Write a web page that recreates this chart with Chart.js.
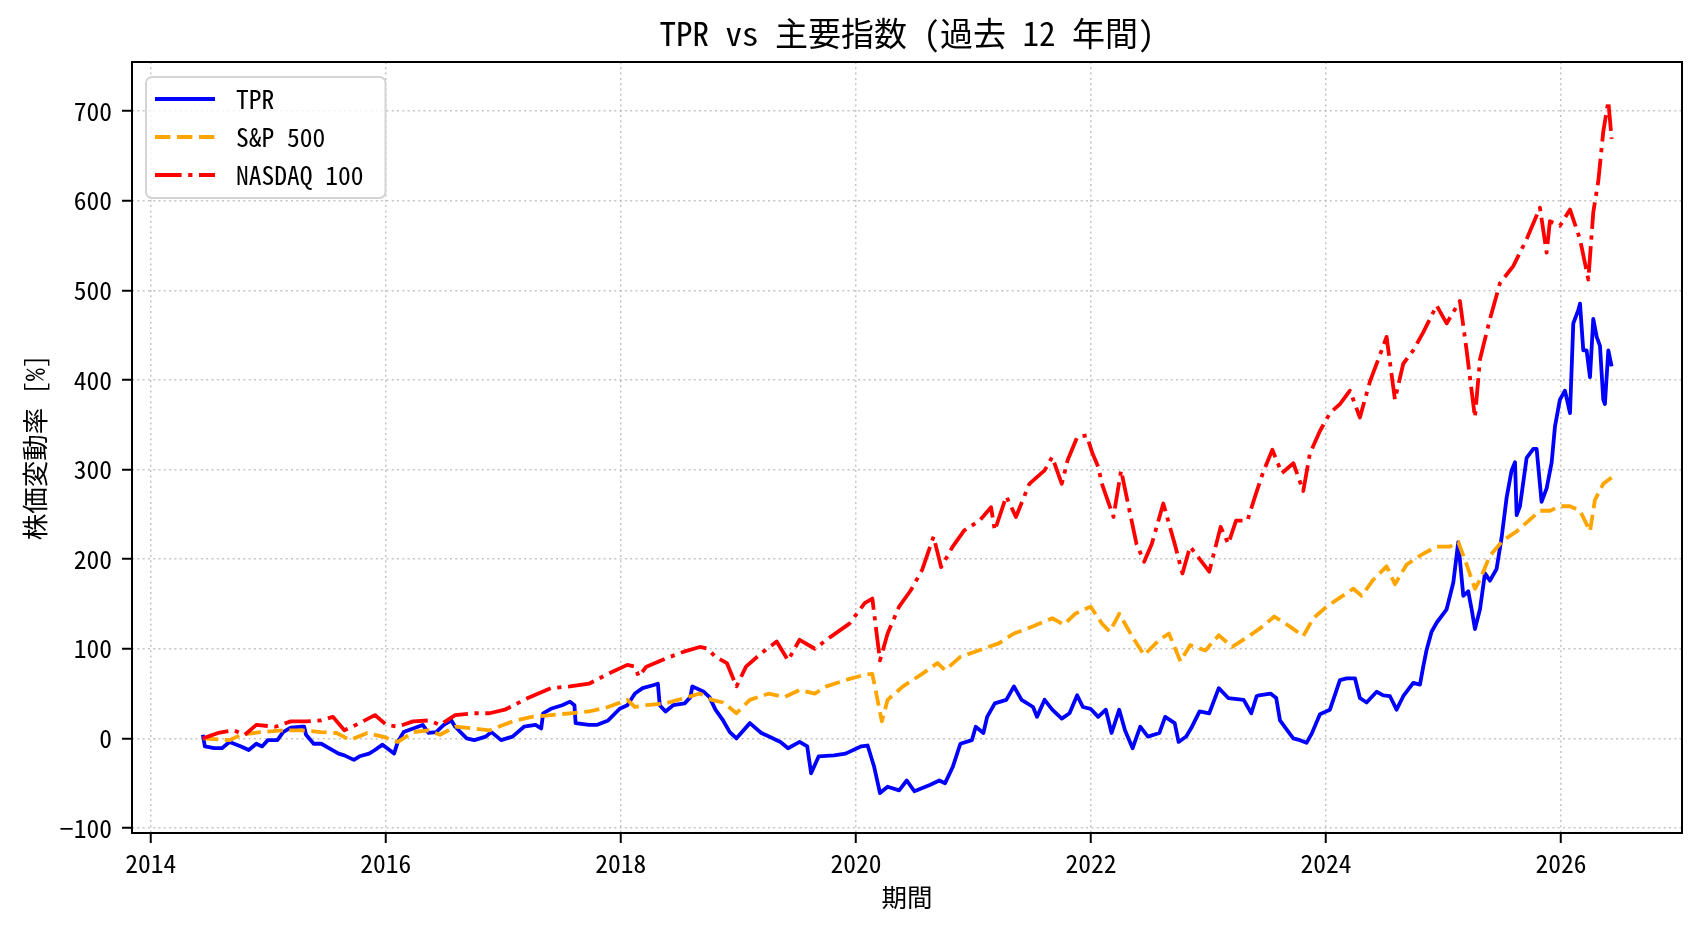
<!DOCTYPE html>
<html>
<head>
<meta charset="utf-8">
<script src="https://cdn.jsdelivr.net/npm/chart.js@4.4.1/dist/chart.umd.min.js"></script>
<style>
html,body{margin:0;padding:0;background:#ffffff;}
canvas{display:block;}
</style>
</head>
<body>
<canvas id="c" width="1702" height="932"></canvas>
<script>
// ---- text ----
const chartTitle = 'TPR vs 主要指数 (過去 12 年間)';
const xAxisLabel = '期間';
const yAxisLabel = '株価変動率 [%]';
const seriesNames = ['TPR', 'S&P 500', 'NASDAQ 100'];

// ---- ticks ----
const xTicks = [2014, 2016, 2018, 2020, 2022, 2024, 2026];
const yTicks = [-100, 0, 100, 200, 300, 400, 500, 600, 700];

// ---- TPR (decimal year, % change) ----
const tprYears = [2014.443,2014.46,2014.54,2014.605,2014.67,2014.768,2014.833,2014.898,2014.947,2014.996,
2015.077,2015.126,2015.191,2015.289,2015.305,2015.321,2015.386,2015.451,2015.516,2015.598,2015.647,2015.728,2015.777,2015.858,2015.907,2015.972,
2016.07,2016.102,2016.151,2016.232,2016.314,2016.363,2016.428,2016.493,2016.558,2016.59,2016.688,2016.753,2016.851,2016.899,2016.981,
2017.078,2017.176,2017.274,2017.322,2017.339,2017.404,2017.501,2017.567,2017.605,2017.615,2017.729,2017.794,2017.892,2017.99,
2018.055,2018.12,2018.185,2018.266,2018.315,2018.331,2018.38,2018.445,2018.543,2018.592,2018.608,2018.706,2018.754,2018.805,2018.87,2018.927,2018.984,
2019.098,2019.195,2019.261,2019.358,2019.423,2019.521,2019.586,2019.619,2019.684,2019.814,2019.912,
2020.042,2020.1,2020.156,2020.205,2020.27,2020.368,2020.433,2020.498,2020.629,2020.71,2020.759,2020.824,2020.889,2020.987,
2021.02,2021.085,2021.117,2021.182,2021.28,2021.345,2021.41,2021.508,2021.541,2021.606,2021.671,2021.752,2021.818,2021.883,2021.932,2021.997,
2022.062,2022.127,2022.176,2022.241,2022.29,2022.355,2022.42,2022.485,2022.583,2022.632,2022.713,2022.746,2022.811,2022.86,2022.925,
2023.007,2023.088,2023.169,2023.3,2023.365,2023.41,2023.43,2023.528,2023.577,2023.609,2023.665,2023.722,2023.779,2023.835,2023.878,2023.949,
2024.034,2024.119,2024.176,2024.247,2024.289,2024.346,2024.431,2024.488,2024.545,2024.601,2024.658,2024.743,2024.8,2024.828,2024.857,2024.899,2024.942,
2025.027,2025.084,2025.126,2025.169,2025.211,2025.24,2025.268,2025.311,2025.353,2025.396,2025.452,2025.495,2025.538,2025.58,2025.609,2025.623,2025.651,2025.708,2025.765,2025.793,2025.835,2025.878,2025.921,2025.949,2025.991,
2026.034,2026.077,2026.105,2026.148,2026.162,2026.19,2026.218,2026.247,2026.275,2026.304,2026.332,2026.36,2026.374,2026.403,2026.431];
const tprValues = [4,-9,-11,-11,-4,-9,-13,-6,-9,-2,
-2,7,12,13,13,4,-6,-6,-11,-17,-19,-24,-20,-17,-13,-7,
-17,-4,7,11,15,6,7,15,20,13,0,-2,2,7,-2,
2,13,15,11,28,33,37,41,37,17,15,15,20,33,
37,50,56,59,61,37,30,37,39,46,58,52,46,32,20,7,0,
17,6,2,-4,-11,-4,-9,-39,-20,-19,-17,
-9,-8,-32,-61,-54,-58,-47,-59,-52,-47,-50,-32,-6,-2,
13,6,24,39,43,58,43,35,24,43,32,22,28,48,35,33,
24,32,6,32,9,-11,13,2,6,24,17,-4,2,13,30,
28,56,45,43,28,47,48,50,45,20,10,0,-2,-5,5,27,
32,65,67,67,45,40,52,48,47,32,47,62,60,80,99,119,129,
144,174,219,159,164,144,122,144,184,176,189,224,269,299,308,249,259,313,323,323,264,279,308,348,378,
388,363,463,478,485,433,433,403,468,448,438,378,373,433,415];

// ---- S&P 500 ----
const spYears = [2014.443,2014.67,2014.768,2014.933,2015.126,2015.289,2015.451,2015.581,2015.695,2015.842,2015.972,
2016.102,2016.232,2016.363,2016.461,2016.59,2016.753,2016.883,2017.078,2017.241,2017.404,2017.567,2017.729,2017.892,
2018.055,2018.12,2018.217,2018.38,2018.543,2018.673,2018.772,2018.87,2018.984,
2019.098,2019.261,2019.391,2019.521,2019.651,2019.749,2019.912,2020.075,2020.14,2020.221,2020.27,2020.401,2020.564,2020.694,2020.759,2020.889,
2021.02,2021.215,2021.345,2021.508,2021.671,2021.769,2021.866,2021.997,2022.094,2022.16,2022.241,2022.355,2022.453,2022.583,2022.664,2022.762,2022.844,2022.974,
2023.088,2023.202,2023.332,2023.463,2023.56,2023.691,2023.807,2023.892,2024.006,2024.119,2024.233,2024.304,2024.403,2024.516,2024.587,2024.687,2024.828,2024.942,
2025.055,2025.126,2025.197,2025.268,2025.311,2025.396,2025.509,2025.623,2025.736,2025.821,2025.906,2025.991,2026.077,2026.162,2026.218,2026.247,2026.289,2026.36,2026.431];
const spValues = [0,-2,4,7,9,9,7,6,-2,6,2,
-4,7,9,4,13,11,9,19,24,26,28,30,35,
43,35,37,39,45,50,43,40,28,
43,50,46,54,50,58,65,71,72,19,43,58,72,84,76,91,
97,106,117,125,134,127,139,147,128,119,139,113,93,110,117,86,104,98,
115,102,113,125,136,125,114,134,147,157,167,159,177,192,172,194,206,214,
214,219,194,167,177,204,221,231,244,254,254,259,259,254,239,231,266,284,291];

// ---- NASDAQ 100 ----
const ndxYears = [2014.443,2014.573,2014.703,2014.8,2014.898,2015.061,2015.191,2015.321,2015.451,2015.549,2015.647,2015.777,2015.907,
2016.005,2016.102,2016.232,2016.363,2016.461,2016.59,2016.753,2016.883,2017.013,2017.209,2017.404,2017.567,2017.729,2017.892,
2018.055,2018.12,2018.152,2018.217,2018.38,2018.543,2018.673,2018.739,2018.805,2018.902,2018.984,
2019.065,2019.195,2019.326,2019.423,2019.521,2019.651,2019.782,2019.945,2020.075,2020.14,2020.205,2020.27,2020.368,2020.466,2020.564,2020.661,2020.726,2020.824,2020.922,
2021.052,2021.15,2021.182,2021.28,2021.362,2021.476,2021.606,2021.671,2021.752,2021.801,2021.883,2021.964,
2022.013,2022.062,2022.094,2022.192,2022.257,2022.322,2022.388,2022.453,2022.518,2022.616,2022.713,2022.779,2022.844,2022.909,
2023.007,2023.104,2023.169,2023.235,2023.332,2023.397,2023.463,2023.544,2023.625,2023.723,2023.807,2023.864,2023.949,
2024.034,2024.119,2024.204,2024.289,2024.374,2024.46,2024.516,2024.587,2024.658,2024.743,2024.828,2024.942,
2025.027,2025.14,2025.197,2025.268,2025.311,2025.396,2025.481,2025.594,2025.708,2025.821,2025.878,2025.906,2025.991,
2026.077,2026.162,2026.233,2026.275,2026.318,2026.36,2026.403,2026.431];
const ndxValues = [0,6,9,4,15,13,19,19,20,24,9,17,26,
15,13,19,20,15,26,28,28,32,45,56,58,61,72,
82,80,69,80,89,97,102,100,91,84,58,
80,95,108,87,110,100,113,128,151,156,87,117,147,165,188,225,191,214,232,
243,258,232,270,247,284,299,314,284,310,336,338,
318,303,284,247,299,258,217,197,217,262,217,184,214,203,
186,236,217,243,243,270,296,322,296,307,276,318,343,
363,373,388,358,398,428,448,378,418,433,453,483,
463,488,433,358,423,468,508,527,557,592,542,577,572,
590,557,512,587,622,677,711,669];

const FONT = "'Noto Sans Mono CJK JP', 'Noto Sans CJK JP', 'DejaVu Sans', sans-serif";
const GRID_COLOR = 'rgba(176,176,176,0.75)';
const pts = (xs, ys) => xs.map((x, i) => ({x: x, y: ys[i]}));

// Title centred over the axes area (as matplotlib does)
const titlePlugin = {
  id: 'axesTitle',
  afterDraw(chart) {
    const {ctx, chartArea: a} = chart;
    ctx.save();
    ctx.font = '33px ' + FONT;
    ctx.fillStyle = '#000000';
    ctx.textAlign = 'center';
    ctx.textBaseline = 'middle';
    ctx.fillText(chartTitle, (a.left + a.right) / 2, 33);
    ctx.restore();
  }
};

const framePlugin = {
  id: 'frame',
  afterDatasetsDraw(chart) {
    const {ctx, chartArea: a} = chart;
    ctx.save();
    ctx.strokeStyle = '#000000';
    ctx.lineWidth = 2;
    ctx.setLineDash([]);
    ctx.strokeRect(a.left, a.top, a.right - a.left, a.bottom - a.top);
    ctx.restore();
  }
};

const legendPlugin = {
  id: 'mplLegend',
  afterDraw(chart) {
    const {ctx, chartArea: a} = chart;
    const ds = chart.data.datasets;
    ctx.save();
    ctx.font = '25.5px ' + FONT;
    const textW = Math.max.apply(null, ds.map(d => ctx.measureText(d.label).width));
    const x0 = a.left + 14, y0 = a.top + 15;
    const w = 90 + textW + 22, h = 121, r = 6;
    ctx.beginPath();
    ctx.moveTo(x0 + r, y0);
    ctx.lineTo(x0 + w - r, y0);
    ctx.arcTo(x0 + w, y0, x0 + w, y0 + r, r);
    ctx.lineTo(x0 + w, y0 + h - r);
    ctx.arcTo(x0 + w, y0 + h, x0 + w - r, y0 + h, r);
    ctx.lineTo(x0 + r, y0 + h);
    ctx.arcTo(x0, y0 + h, x0, y0 + h - r, r);
    ctx.lineTo(x0, y0 + r);
    ctx.arcTo(x0, y0, x0 + r, y0, r);
    ctx.closePath();
    ctx.fillStyle = 'rgba(255,255,255,0.8)';
    ctx.fill();
    ctx.strokeStyle = '#d4d4d4';
    ctx.lineWidth = 2;
    ctx.stroke();
    ds.forEach((d, i) => {
      const cy = y0 + 22 + i * 38;
      ctx.beginPath();
      ctx.setLineDash(d.borderDash || []);
      ctx.lineCap = 'butt';
      ctx.strokeStyle = d.borderColor;
      ctx.lineWidth = d.borderWidth;
      ctx.moveTo(x0 + 9, cy);
      ctx.lineTo(x0 + 69, cy);
      ctx.stroke();
      ctx.setLineDash([]);
      ctx.fillStyle = '#000000';
      ctx.textBaseline = 'middle';
      ctx.textAlign = 'left';
      ctx.fillText(d.label, x0 + 90, cy);
    });
    ctx.restore();
  }
};

const tickFont = {family: FONT, size: 25.5, weight: 'normal', lineHeight: 1.2};
const yTitleFont = {family: FONT, size: 26.5, weight: 'normal', lineHeight: 1.2};

new Chart(document.getElementById('c').getContext('2d'), {
  type: 'line',
  data: {
    datasets: [
      {label: seriesNames[0], data: pts(tprYears, tprValues), borderColor: '#0000ff', backgroundColor: '#0000ff', borderWidth: 3.8, order: 3},
      {label: seriesNames[1], data: pts(spYears, spValues), borderColor: '#ffa500', backgroundColor: '#ffa500', borderWidth: 3.8, borderDash: [15.4, 6.6], order: 2},
      {label: seriesNames[2], data: pts(ndxYears, ndxValues), borderColor: '#ff0000', backgroundColor: '#ff0000', borderWidth: 3.8, borderDash: [26.6, 6.6, 4.2, 6.6], order: 1}
    ]
  },
  options: {
    responsive: false,
    animation: false,
    devicePixelRatio: 1,
    elements: {
      point: {radius: 0, hoverRadius: 0},
      line: {tension: 0, fill: false, borderJoinStyle: 'round', borderCapStyle: 'butt'}
    },
    layout: {padding: {top: 62, right: 20, bottom: 0, left: 0}},
    plugins: {
      legend: {display: false},
      tooltip: {enabled: false},
      title: {display: false}
    },
    scales: {
      x: {
        type: 'linear',
        min: 2013.84,
        max: 2027.03,
        afterBuildTicks: s => { s.ticks = xTicks.map(v => ({value: v})); },
        afterFit: s => { s.height = 99; },
        ticks: {callback: v => String(v), color: '#000000', font: tickFont, padding: 5, autoSkip: false, maxRotation: 0, minRotation: 0},
        grid: {color: GRID_COLOR, lineWidth: 1.5, tickLength: 10, tickColor: '#000000', tickWidth: 2, drawTicks: true},
        border: {display: false, dash: [2, 3.3]},
        title: {display: true, text: xAxisLabel, color: '#000000', font: tickFont, padding: {top: 0, bottom: 19}}
      },
      y: {
        type: 'linear',
        min: -105.6,
        max: 754.7,
        afterBuildTicks: s => { s.ticks = yTicks.map(v => ({value: v})); },
        afterFit: s => { s.width = 132; },
        ticks: {callback: v => (v < 0 ? '\u2212' + Math.abs(v) : String(v)), color: '#000000', font: tickFont, padding: 10, autoSkip: false},
        grid: {color: GRID_COLOR, lineWidth: 1.5, tickLength: 10, tickColor: '#000000', tickWidth: 2, drawTicks: true},
        border: {display: false, dash: [2, 3.3]},
        title: {display: true, text: yAxisLabel, color: '#000000', font: yTitleFont, padding: {top: 19, bottom: 0}}
      }
    }
  },
  plugins: [framePlugin, legendPlugin, titlePlugin]
});
</script>
</body>
</html>
